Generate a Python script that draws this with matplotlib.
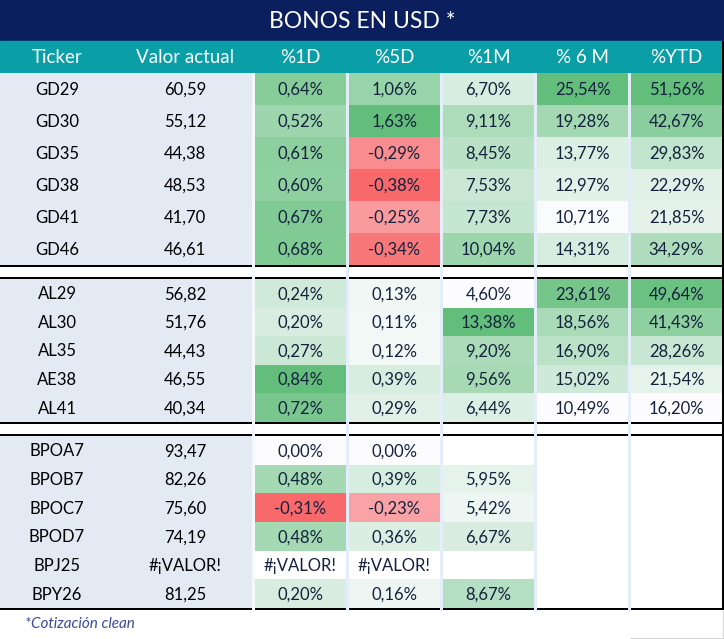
import numpy as np
import matplotlib.pyplot as plt
from matplotlib.patches import Rectangle
from matplotlib.colors import LinearSegmentedColormap, Normalize

plt.rcParams['font.family'] = ['Lato', 'DejaVu Sans']

title = "BONOS EN USD *"
headers = ["Ticker", "Valor actual", "%1D", "%5D", "%1M", "% 6 M", "%YTD"]
footnote = "*Cotización clean"
ERR = "#¡VALOR!"

# group 1: GD
tickers_gd = ["GD29", "GD30", "GD35", "GD38", "GD41", "GD46"]
valor_gd = [60.59, 55.12, 44.38, 48.53, 41.70, 46.61]
d1_gd = [0.64, 0.52, 0.61, 0.60, 0.67, 0.68]
d5_gd = [1.06, 1.63, -0.29, -0.38, -0.25, -0.34]
m1_gd = [6.70, 9.11, 8.45, 7.53, 7.73, 10.04]
m6_gd = [25.54, 19.28, 13.77, 12.97, 10.71, 14.31]
ytd_gd = [51.56, 42.67, 29.83, 22.29, 21.85, 34.29]

# group 2: AL / AE
tickers_al = ["AL29", "AL30", "AL35", "AE38", "AL41"]
valor_al = [56.82, 51.76, 44.43, 46.55, 40.34]
d1_al = [0.24, 0.20, 0.27, 0.84, 0.72]
d5_al = [0.13, 0.11, 0.12, 0.39, 0.29]
m1_al = [4.60, 13.38, 9.20, 9.56, 6.44]
m6_al = [23.61, 18.56, 16.90, 15.02, 10.49]
ytd_al = [49.64, 41.43, 28.26, 21.54, 16.20]

# group 3: BP (None = empty cell)
tickers_bp = ["BPOA7", "BPOB7", "BPOC7", "BPOD7", "BPJ25", "BPY26"]
valor_bp = [93.47, 82.26, 75.60, 74.19, ERR, 81.25]
d1_bp = [0.00, 0.48, -0.31, 0.48, ERR, 0.20]
d5_bp = [0.00, 0.39, -0.23, 0.36, ERR, 0.16]
m1_bp = [None, 5.95, 5.42, 6.67, None, 8.67]
m6_bp = [None] * 6
ytd_bp = [None] * 6

groups = [
    (tickers_gd, valor_gd, [d1_gd, d5_gd, m1_gd, m6_gd, ytd_gd]),
    (tickers_al, valor_al, [d1_al, d5_al, m1_al, m6_al, ytd_al]),
    (tickers_bp, valor_bp, [d1_bp, d5_bp, m1_bp, m6_bp, ytd_bp]),
]

# layout (pixels)
W, H = 724, 639
spans = [(73, 265), (279, 422), (436, 608)]
lw_px = 2.2
heat_x0, heat_w, heat_pitch = 255, 91, 94
navy = "#0B1F5E"
teal = "#0A9EA6"
left_bg = "#E3EAF4"
sep_col = "#E3EEFA"
txt_col = "#14213D"

greens = LinearSegmentedColormap.from_list("g", ["#FCFCFF", "#63BE7B"])
reds = LinearSegmentedColormap.from_list("r", ["#FCFCFF", "#F8696B"])


def is_num(v):
    return isinstance(v, (int, float))


def fmt(v):
    return f"{v:.2f}".replace(".", ",")


# per column colour scale over all groups
scales = []
for c in range(5):
    vals = [v for g in groups for v in g[2][c] if is_num(v)]
    if not vals:
        scales.append(None)
        continue
    lo, hi = min(vals), max(vals)
    if lo < 0:
        scales.append((Normalize(0, hi), Normalize(lo, 0)))
    else:
        scales.append((Normalize(lo, hi), None))


def cell_color(c, v):
    gnorm, rnorm = scales[c]
    if v < 0 and rnorm is not None:
        return reds(1 - rnorm(v))
    return greens(gnorm(v))


fig = plt.figure(figsize=(7.24, 6.39), dpi=100)
ax = fig.add_axes([0, 0, 1, 1])
ax.set_xlim(0, W)
ax.set_ylim(H, 0)
ax.axis("off")

# title + header bands
ax.add_patch(Rectangle((0, 0), W, 41, color=navy))
ax.text(W / 2, 21, title, color="white", fontsize=16.5, ha="center", va="center")
ax.add_patch(Rectangle((0, 41), W, 32, color=teal))
hx = [57, 185] + [heat_x0 + i * heat_pitch + heat_w / 2 for i in range(5)]
for x, h in zip(hx, headers):
    ax.text(x, 57.5, h, color="white", fontsize=13.5, ha="center", va="center")

for (tick, valor, cols), (y0, y1) in zip(groups, spans):
    n = len(tick)
    rh = (y1 - y0) / n
    ax.add_patch(Rectangle((0, y0), 255, y1 - y0, color=left_bg, lw=0))
    for r in range(n):
        yc = y0 + rh * (r + 0.5)
        ax.text(57, yc + 1, tick[r], color="black", fontsize=12, ha="center", va="center")
        v = valor[r]
        ax.text(185, yc + 1, fmt(v) if is_num(v) else v, color="black", fontsize=12,
                ha="center", va="center")
        for c in range(5):
            v = cols[c][r]
            x0 = heat_x0 + c * heat_pitch
            if is_num(v):
                ax.add_patch(Rectangle((x0, y0 + rh * r), heat_w, rh + 0.3,
                                       color=cell_color(c, v), lw=0))
                ax.text(x0 + heat_w / 2, yc + 1, fmt(v) + "%", color=txt_col, fontsize=12,
                        ha="center", va="center")
            elif v == ERR:
                ax.text(x0 + heat_w / 2, yc + 1, v, color=txt_col, fontsize=12,
                        ha="center", va="center")
    # black group border lines
    if y0 > 73:
        ax.add_patch(Rectangle((0, y0 - lw_px), W, lw_px, color="black", lw=0))
    ax.add_patch(Rectangle((0, y1), W, lw_px, color="black", lw=0))

# column separators
ax.add_patch(Rectangle((252, 73), 3, 538, color="#F4F7FB", lw=0))
for i in range(1, 5):
    ax.add_patch(Rectangle((heat_x0 + i * heat_pitch - 3, 73), 3, 538, color=sep_col, lw=0))

# right border
ax.add_patch(Rectangle((W - 2.2, 41), 2.2, spans[2][1] + lw_px - 41, color="black", lw=0))
# faint footnote cell border
ax.plot([W - 1.5, W - 1.5], [611, 638], color="#D8D8D8", lw=0.8)
ax.plot([630, W], [638, 638], color="#D8D8D8", lw=0.8)

ax.text(25, 624, footnote, color="#3B4A9B", fontsize=11, style="italic",
        ha="left", va="center")

fig.savefig("out.png", dpi=100)
